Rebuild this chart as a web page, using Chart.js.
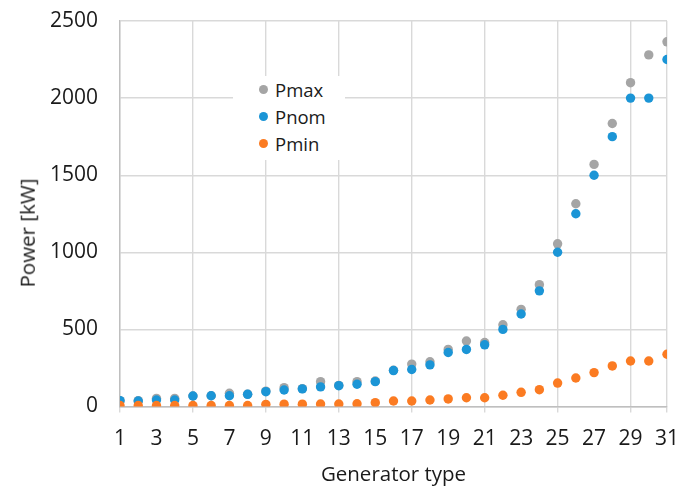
<html>
  <head>
    <style>
body {
  margin: 0;
  background: #fff;
  font-family: 'Open Sans', sans-serif;
}

#wrap {
  position: relative;
  width: 681px;
  height: 488px;
}

#legend {
  position: absolute;
  left: 233px;
  top: 76px;
  width: 112px;
  height: 84px;
  background: #fff;
}

.item {
  position: absolute;
  left: 0;
  height: 27px;
  line-height: 27px;
  font-size: 18.5px;
  color: #1a1a1a;
}

.dot {
  position: absolute;
  left: 26px;
  top: 9px;
  width: 9px;
  height: 9px;
  border-radius: 50%;
}

.item span {
  position: absolute;
  left: 42px;
  white-space: nowrap;
}

#ytitle {
  position: absolute;
  left: 27px;
  top: 233px;
  transform: translate(-50%, -50%) rotate(-90deg);
  font-size: 20.5px;
  line-height: 1;
  color: #1a1a1a;
  white-space: nowrap;
}
    </style>
  </head>
  <body>
    <div id="wrap">
      <canvas id="chart"></canvas>
      <div id="legend"></div>
      <div id="ytitle">Power [kW]</div>
    </div>
    <script src="https://cdn.jsdelivr.net/npm/chart.js"></script>
    <script>

const generatorTypes = [1, 2, 3, 4, 5, 6, 7, 8, 9, 10, 11, 12, 13, 14, 15, 16,
  17, 18, 19, 20, 21, 22, 23, 24, 25, 26, 27, 28, 29, 30, 31]
const pmax = [38, 38, 53, 53, 68, 70, 86, 80, 100, 122, 116, 161, 137, 161, 165, 235,
  275, 290, 370, 425, 415, 530, 630, 790, 1055, 1315, 1570, 1835, 2100, 2280, 2365]
const pnom = [38, 36, 42, 42, 68, 70, 70, 79, 96, 107, 114, 127, 135, 144, 161, 233,
  240, 270, 350, 370, 400, 500, 600, 750, 1000, 1250, 1500, 1750, 2000, 2000, 2250]
const pmin = [6, 6, 6, 6, 6, 6, 6, 6, 14, 15, 15, 16, 16, 18, 25, 36,
  36, 42, 49, 57, 57, 73, 92, 109, 152, 185, 220, 263, 295, 295, 339]
const yTicks = [0, 500, 1000, 1500, 2000, 2500]

const gridColor = '#d9d9d9'
const axisColor = '#bfbfbf'
const textColor = '#1a1a1a'

function pairs(values) {
  return generatorTypes.map((t, i) => ({ x: t, y: values[i] }))
}

const series = [
  { label: 'Pmax', data: pmax, color: '#a5a5a5', order: 3 },
  { label: 'Pnom', data: pnom, color: '#1b95d6', order: 2 },
  { label: 'Pmin', data: pmin, color: '#fb7b22', order: 1 }
]

// vertical grid every 4 types, plus the right frame at 31
function xGrid(ctx) {
  const v = ctx.tick && ctx.tick.value
  if (v === undefined) return 'transparent'
  return ((v - 1) % 4 === 0 || v === 31) ? gridColor : 'transparent'
}

const tickFont = { family: "'Open Sans', sans-serif", size: 21 }
const titleFont = { family: "'Open Sans', sans-serif", size: 20.5 }

new Chart(document.getElementById('chart'), {
  type: 'scatter',
  data: {
    datasets: series.map(s => ({
      label: s.label,
      data: pairs(s.data),
      order: s.order,
      backgroundColor: s.color,
      borderColor: s.color,
      borderWidth: 0,
      pointRadius: 4.7,
      pointHoverRadius: 4.7
    }))
  },
  options: {
    responsive: true,
    maintainAspectRatio: false,
    animation: false,
    layout: { padding: 0 },
    plugins: {
      legend: { display: false },
      tooltip: { enabled: false }
    },
    scales: {
      x: {
        type: 'linear',
        min: 1,
        max: 31,
        afterBuildTicks: scale => {
          scale.ticks = generatorTypes.filter(t => t % 2 === 1).map(v => ({ value: v }))
        },
        // pin the plot frame where the reference has it
        afterFit: scale => {
          scale.height = 81.5
          scale.paddingLeft = 0
          scale.paddingRight = 14
        },
        grid: {
          color: xGrid,
          tickColor: xGrid,
          tickLength: 6,
          lineWidth: 1.4
        },
        border: { color: axisColor, width: 1.4 },
        ticks: {
          color: textColor,
          font: tickFont,
          padding: 14,
          maxRotation: 0,
          autoSkip: false
        },
        title: {
          display: true,
          text: 'Generator type',
          color: textColor,
          font: titleFont,
          padding: { top: 6, bottom: 1 }
        }
      },
      y: {
        min: 0,
        max: 2500,
        afterBuildTicks: scale => {
          scale.ticks = yTicks.map(v => ({ value: v }))
        },
        afterFit: scale => {
          scale.width = 120
          scale.paddingTop = 21
          scale.paddingBottom = 0
        },
        grid: {
          color: gridColor,
          lineWidth: 1.4,
          drawTicks: false
        },
        border: { color: axisColor, width: 1.4 },
        ticks: {
          color: textColor,
          font: tickFont,
          padding: 22,
          callback: v => String(v)
        },
        // the axis title sits lower than centre in the reference, drawn as #ytitle
        title: { display: false }
      }
    }
  }
})

const legend = document.getElementById('legend')
series.forEach((s, i) => {
  const item = document.createElement('div')
  item.className = 'item'
  item.style.top = (i * 27) + 'px'
  item.innerHTML = '<div class="dot" style="background:' + s.color + '"></div><span>' + s.label + '</span>'
  legend.appendChild(item)
})
    </script>
  </body>
</html>
